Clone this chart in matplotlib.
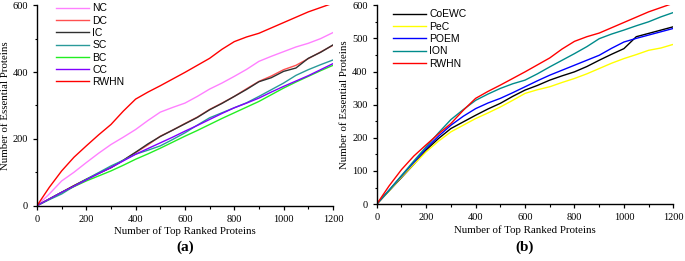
import numpy as np
import matplotlib
matplotlib.use('Agg')
from matplotlib import pyplot as plt
from matplotlib.ticker import MultipleLocator

# x positions (number of top ranked proteins)
x = [0, 50, 100, 150, 200, 250, 300, 350, 400, 450, 500, 550, 600, 650,
     700, 750, 800, 850, 900, 950, 1000, 1050, 1100, 1150, 1200]

# panel (a)
nc   = [0, 35, 74, 100, 129, 157, 183, 205, 228, 255, 280, 294, 307, 327,
        349, 367, 387, 408, 432, 447, 461, 475, 486, 500, 518]
dc   = [0, 20, 40, 60, 79, 97, 114, 136, 159, 182, 208, 226, 246, 265,
        288, 307, 327, 350, 372, 388, 407, 420, 440, 460, 480]
ic   = [0, 20, 40, 60, 79, 97, 114, 136, 160, 185, 207, 226, 245, 264,
        287, 306, 327, 348, 371, 383, 402, 412, 441, 459, 481]
sc   = [0, 18, 35, 58, 79, 99, 119, 136, 154, 166, 179, 198, 218, 241,
        263, 278, 293, 308, 327, 347, 367, 390, 407, 422, 436]
bc   = [0, 20, 40, 57, 74, 89, 104, 121, 139, 155, 172, 190, 208, 225,
        243, 261, 278, 295, 312, 332, 352, 370, 387, 404, 420]
cc   = [0, 20, 40, 58, 77, 96, 114, 134, 154, 171, 188, 205, 223, 240,
        258, 276, 293, 307, 322, 340, 357, 373, 389, 407, 425]
rwhn = [0, 55, 104, 145, 179, 212, 243, 283, 319, 340, 359, 379, 399, 420,
        441, 468, 491, 505, 516, 532, 548, 564, 580, 593, 606]

# panel (b)
coewc = [0, 40, 80, 120, 163, 198, 228, 248, 268, 287, 304, 325, 344, 358,
         374, 387, 399, 415, 434, 452, 469, 505, 515, 525, 535]
pec   = [0, 40, 82, 120, 158, 190, 218, 238, 258, 275, 293, 313, 334, 345,
         354, 367, 379, 393, 409, 425, 439, 451, 464, 471, 482]
poem  = [0, 42, 85, 126, 168, 205, 238, 265, 288, 305, 319, 336, 354, 372,
         389, 404, 419, 434, 449, 470, 489, 500, 510, 520, 530]
ion   = [0, 42, 86, 130, 173, 215, 255, 285, 313, 332, 349, 363, 374, 393,
         414, 434, 454, 475, 499, 513, 525, 538, 550, 565, 578]

plt.rcParams['font.family'] = ['Liberation Serif', 'DejaVu Serif']
fig = plt.figure(figsize=(6.85, 2.61), dpi=100)
ax1 = fig.add_axes([0.054, 0.212, 0.432, 0.768])
ax2 = fig.add_axes([0.550, 0.218, 0.433, 0.762])

def style(ax):
    ax.set_xlim(0, 1200)
    ax.set_ylim(0, 600)
    ax.spines['top'].set_visible(False)
    ax.spines['right'].set_visible(False)
    for s in ('left', 'bottom'):
        ax.spines[s].set_linewidth(1.0)
    ax.xaxis.set_major_locator(MultipleLocator(200))
    ax.xaxis.set_minor_locator(MultipleLocator(100))
    ax.tick_params(labelsize=7.5, length=3, width=0.9)
    ax.tick_params(which='minor', length=1.8, width=0.8)
    ax.set_xlabel('Number of Top Ranked Proteins', fontsize=7.8, labelpad=2)
    ax.set_ylabel('Number of Essential Proteins', fontsize=7.8, labelpad=2)

ax1.plot(x, nc, color='#ff80ff', lw=1, label='NC')
ax1.plot(x, dc, color='#ff5050', lw=1, label='DC')
ax1.plot(x, ic, color='#303030', lw=1, label='IC')
ax1.plot(x, sc, color='#2a9a9a', lw=1, label='SC')
ax1.plot(x, bc, color='#22ee22', lw=1, label='BC')
ax1.plot(x, cc, color='#8000ff', lw=1, label='CC')
ax1.plot(x, rwhn, color='#ff0000', lw=1, label='RWHN')
style(ax1)
ax1.yaxis.set_major_locator(MultipleLocator(200))
ax1.yaxis.set_minor_locator(MultipleLocator(100))

ax2.plot(x, coewc, color='black', lw=1, label='CoEWC')
ax2.plot(x, pec, color='#ffff00', lw=1, label='PeC')
ax2.plot(x, poem, color='#0000ff', lw=1, label='POEM')
ax2.plot(x, ion, color='#008b8b', lw=1, label='ION')
ax2.plot(x, rwhn, color='#ff0000', lw=1, label='RWHN')
style(ax2)
ax2.yaxis.set_major_locator(MultipleLocator(100))
ax2.yaxis.set_minor_locator(MultipleLocator(50))

ax1.legend(loc='upper left', bbox_to_anchor=(0.05, 1.03), frameon=False,
           prop={'family': 'Liberation Sans', 'size': 7.5},
           handlelength=3.2, handletextpad=0.3, labelspacing=0.22,
           borderaxespad=0)
ax2.legend(loc='upper left', bbox_to_anchor=(0.04, 1.0), frameon=False,
           prop={'family': 'Liberation Sans', 'size': 7.5},
           handlelength=3.2, handletextpad=0.3, labelspacing=0.22,
           borderaxespad=0)

fig.text(0.27, 0.04, '(a)', fontsize=11, fontweight='bold', ha='center')
fig.text(0.766, 0.04, '(b)', fontsize=11, fontweight='bold', ha='center')

fig.savefig('out.png', dpi=100)
